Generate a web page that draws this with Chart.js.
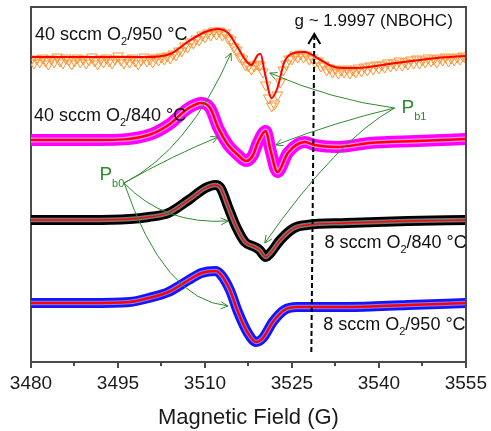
<!DOCTYPE html>
<html><head><meta charset="utf-8">
<script src="https://cdn.jsdelivr.net/npm/chart.js@4"></script>
<style>html,body{margin:0;padding:0;background:#fff;overflow:hidden;}canvas{display:block;}</style>
</head><body>
<canvas id="c" width="491" height="431"></canvas>
<script>
const FONT = '"Liberation Sans", Arial, Helvetica, sans-serif';
const AXIS = '#4a4a4a';

// Axes
const xMin = 3480, xMax = 3555, xStep = 15;
const minorTickValues = [3487.5, 3502.5, 3517.5, 3532.5, 3547.5];
const yMin = 0, yMax = 355;
const xTitle = 'Magnetic Field (G)';

// 40 sccm O2 / 950 °C : measured points (0.5 G grid) and fit
const orangeStart = 3480, orangeStep = 0.5;
const orangeMarkers = [
 302,299,303,300,304,301,298,303,300,305,
 301,299,304,302,298,301,304,300,303,299,
 302,305,301,298,303,300,304,301,299,303,
 306,302,299,303,300,304,301,298,302,305,
 301,303,300,304,302,305,303,306,304,308,
 307,311,311,316,315,320,319,323,322,327,
 325,329,327,331,328,331,327,329,324,322,
 315,312,305,303,297,296,293,296,298,297,
 290,277,264,256,258,267,280,292,298,303,
 303,307,305,308,305,307,303,304,300,301,
 296,297,292,294,290,293,289,292,290,293,
 289,292,290,294,291,295,292,296,293,297,
 294,297,295,299,296,299,297,301,297,300,
 298,302,299,303,299,302,300,304,301,303,
 300,304,302,305,301,304,302,305,303,306,
 304];
const orangeFitField = [3480,3490,3497,3500,3504,3507,3510,3512.3,3514,3515.4,3517,3518,3519.1,3519.6,3520.3,3521.5,3522.5,3523.7,3525.4,3527.2,3529.4,3532.3,3534.5,3536,3543,3550,3555];
const orangeFitValue = [305,305,305,305,308,320,330,333,329,317,302,297,307,308,290,264,274,300,309,310,304,295,294,294,299,304,306];

// 40 sccm O2 / 840 °C
const magentaField = [3480,3491.8,3500.3,3503.7,3507.2,3509.4,3510.9,3512.3,3514.0,3515.7,3517.1,3518.3,3519.1,3520.5,3521.3,3522.5,3524.3,3527.2,3528.9,3532.8,3538.4,3546.5,3555];
const magentaValue = [222,222,227,237,254,259,254,234,217,207,201,207,219,231,212,190,209,220,217,215,219,221,223];

// 8 sccm O2 / 840 °C
const blackField = [3480,3490,3497,3500.3,3503.7,3507.2,3510.1,3511.8,3512.7,3514,3515.4,3516.9,3518.6,3519.4,3520.5,3521.3,3523,3525.4,3527.6,3534.4,3545,3555];
const blackValue = [142,142,143,145,149,162,174,177,174,155,135,120,115,112,105,109,122,134,137,139,141,142];

// 8 sccm O2 / 950 °C
const blueField = [3480,3490,3497,3500.3,3503.7,3507.2,3509.4,3511.8,3512.8,3514.3,3515.7,3517.4,3518.8,3520,3521.7,3523.7,3525.9,3534.5,3545,3555];
const blueValue = [59,59,60,64,70,82,89,91,87,72,50,29,20,24,40,52,55,55,57,59];

// Annotations (data coordinates: field, intensity)
const seriesLabels = [
  {x:3480.7, y:322.5, pre:'40 sccm O', sub:'2', post:'/950 °C'},
  {x:3480.5, y:241.5, pre:'40 sccm O', sub:'2', post:'/840 °C'},
  {x:3530.6, y:114.5, pre:'8 sccm O', sub:'2', post:'/840 °C'},
  {x:3530.4, y:32,    pre:'8 sccm O', sub:'2', post:'/950 °C'}
];
const gLabel = {x:3525.45, y:336, text:'g ~ 1.9997 (NBOHC)'};
const gLine = {xTop:3528.86, yTop:328, xBottom:3528.35, yBottom:10};
const pLabels = [
  {x:3491.8, y:182, main:'P', sub:'b0'},
  {x:3543.9, y:249, main:'P', sub:'b1'}
];
const pb0Origin = [3496.06, 179];
const pb0Targets = [[3514.51,309,3507.17,212],[3512.29,225,3504.60,207],[3514.00,141,3502.89,137],[3514.00,56,3502.89,62]];
const pb1Origin = [3542.70, 254];
const pb1Targets = [[3521.18,289,3531.94,262],[3522.20,217,3532.45,240],[3520.32,119,3532.79,222]];

const pts = (f, v) => f.map((x, i) => ({x, y: v[i]}));
const orangePts = orangeMarkers.map((v, i) => ({x: orangeStart + i * orangeStep, y: v}));

function band(data, color, width, order) {
  return {data, borderColor: color, borderWidth: width, pointRadius: 0, fill: false,
          cubicInterpolationMode: 'monotone', order, borderJoinStyle: 'round', borderCapStyle: 'round'};
}

const annotPlugin = {
  id: 'annot',
  afterDraw(chart) {
    const ctx = chart.ctx, x = chart.scales.x, y = chart.scales.y;
    const X = v => x.getPixelForValue(v), Y = v => y.getPixelForValue(v);
    ctx.save();
    // frame (top and right)
    const fl = Math.round(X(xMin)), fr = Math.round(X(xMax)), ft = Math.round(Y(yMax)), fb = Math.round(Y(yMin));
    ctx.strokeStyle = AXIS; ctx.lineWidth = 2; ctx.setLineDash([]); ctx.lineCap = 'square';
    ctx.beginPath();
    ctx.moveTo(fl, ft); ctx.lineTo(fr, ft); ctx.lineTo(fr, fb);
    ctx.stroke();
    ctx.lineCap = 'butt';
    // minor ticks
    ctx.beginPath();
    minorTickValues.forEach(m => { const mx = Math.round(X(m)); ctx.moveTo(mx, fb); ctx.lineTo(mx, fb + 4); });
    ctx.stroke();
    // dashed g line
    ctx.strokeStyle = '#000'; ctx.lineWidth = 2; ctx.setLineDash([5, 3]);
    ctx.beginPath();
    ctx.moveTo(X(gLine.xBottom), Y(gLine.yBottom)); ctx.lineTo(X(gLine.xTop), Y(gLine.yTop) + 2);
    ctx.stroke();
    ctx.setLineDash([]);
    const tx = X(gLine.xTop), ty = Y(gLine.yTop);
    ctx.beginPath(); ctx.moveTo(tx - 6, ty + 10); ctx.lineTo(tx, ty); ctx.lineTo(tx + 6, ty + 10); ctx.stroke();
    // green arrows
    const green = '#2e8b2e';
    ctx.strokeStyle = green; ctx.lineWidth = 1;
    function arrow(o, t) {
      const x0 = X(o[0]), y0 = Y(o[1]), x2 = X(t[0]), y2 = Y(t[1]), cx = X(t[2]), cy = Y(t[3]);
      ctx.beginPath(); ctx.moveTo(x0, y0); ctx.quadraticCurveTo(cx, cy, x2, y2); ctx.stroke();
      const a = Math.atan2(y2 - cy, x2 - cx), L = 8, h = 0.45;
      ctx.beginPath();
      ctx.moveTo(x2 - L * Math.cos(a - h), y2 - L * Math.sin(a - h));
      ctx.lineTo(x2, y2);
      ctx.lineTo(x2 - L * Math.cos(a + h), y2 - L * Math.sin(a + h));
      ctx.stroke();
    }
    pb0Targets.forEach(t => arrow(pb0Origin, t));
    pb1Targets.forEach(t => arrow(pb1Origin, t));
    // series labels
    ctx.fillStyle = '#111'; ctx.textBaseline = 'alphabetic'; ctx.textAlign = 'left';
    seriesLabels.forEach(l => {
      let px = X(l.x); const py = Y(l.y);
      ctx.font = '18px ' + FONT; ctx.fillText(l.pre, px, py); px += ctx.measureText(l.pre).width;
      ctx.font = '11px ' + FONT; ctx.fillText(l.sub, px, py + 5); px += ctx.measureText(l.sub).width;
      ctx.font = '18px ' + FONT; ctx.fillText(l.post, px, py);
    });
    ctx.font = '17px ' + FONT; ctx.fillText(gLabel.text, X(gLabel.x), Y(gLabel.y));
    // P labels
    ctx.fillStyle = green;
    pLabels.forEach(p => {
      let px = X(p.x); const py = Y(p.y);
      ctx.font = '19px ' + FONT; ctx.fillText(p.main, px, py); px += ctx.measureText(p.main).width;
      ctx.font = '11px ' + FONT; ctx.fillText(p.sub, px, py + 7);
    });
    ctx.restore();
  }
};

new Chart(document.getElementById('c'), {
  type: 'line',
  data: {
    datasets: [
      {data: orangePts, showLine: false, pointStyle: 'triangle', pointRotation: 180, pointRadius: 6,
       pointBorderColor: '#ff9330', pointBorderWidth: 1, pointBackgroundColor: 'rgba(255,255,255,0)', order: 3},
      band(pts(orangeFitField, orangeFitValue), '#ff0000', 2, 0),
      band(pts(magentaField, magentaValue), '#ff00ff', 12, 3),
      band(pts(magentaField, magentaValue), '#ff8cff', 5, 2),
      band(pts(magentaField, magentaValue), '#ff0000', 2.5, 0),
      band(pts(blackField, blackValue), '#000000', 10, 3),
      band(pts(blackField, blackValue), '#777777', 4.5, 2),
      band(pts(blackField, blackValue), '#ff0000', 1.3, 0),
      band(pts(blueField, blueValue), '#1414ff', 10, 3),
      band(pts(blueField, blueValue), '#8080ff', 4.5, 2),
      band(pts(blueField, blueValue), '#ff0000', 2.5, 0)
    ]
  },
  options: {
    responsive: false, animation: false, devicePixelRatio: 1,
    layout: {padding: {left: 31, right: 21, top: 7, bottom: 0}},
    plugins: {legend: {display: false}, tooltip: {enabled: false}},
    scales: {
      x: {type: 'linear', min: xMin, max: xMax,
          ticks: {stepSize: xStep, callback: v => String(v), font: {family: FONT, size: 19}, color: '#1a1a1a', padding: 4, maxRotation: 0, autoSkip: false},
          grid: {display: true, drawOnChartArea: false, drawTicks: true, tickLength: 6, color: AXIS, tickWidth: 2, lineWidth: 2},
          border: {display: true, color: AXIS, width: 2},
          title: {display: true, text: xTitle, font: {family: FONT, size: 22}, color: '#1a1a1a', padding: 0},
          afterFit(s) { s.height = 69; }},
      y: {type: 'linear', min: yMin, max: yMax, ticks: {display: false},
          grid: {display: false, drawTicks: false}, border: {display: true, color: AXIS, width: 2},
          afterFit(s) { s.width = 0; }}
    }
  },
  plugins: [annotPlugin]
});
</script>
</body></html>
